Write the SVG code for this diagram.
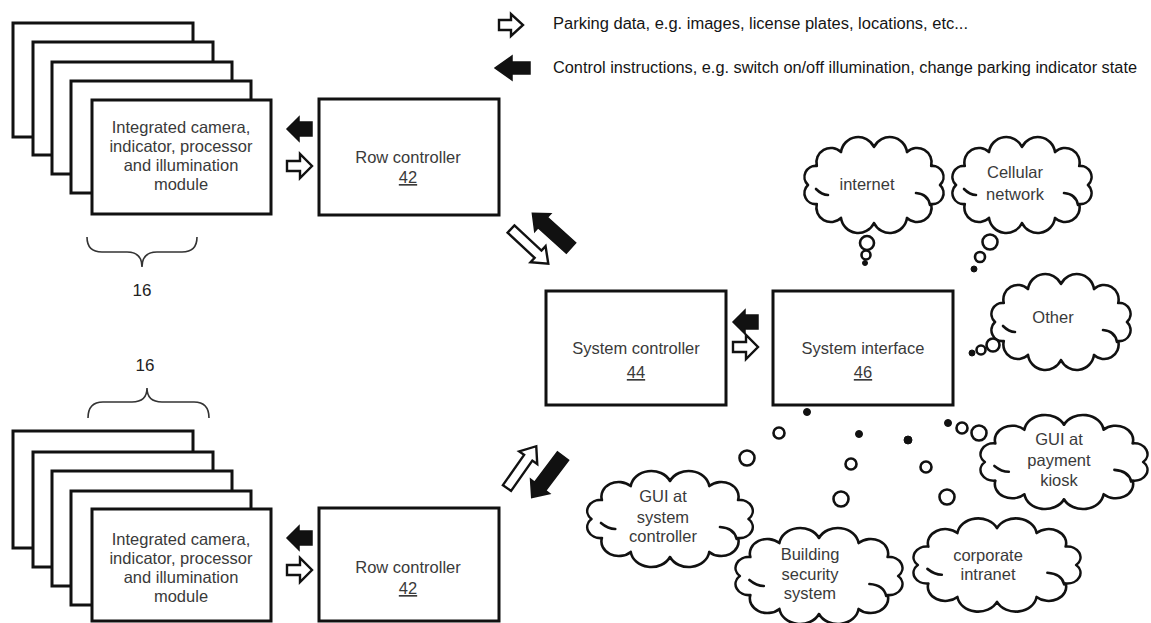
<svg xmlns="http://www.w3.org/2000/svg" xmlns:xlink="http://www.w3.org/1999/xlink" width="1151" height="623" viewBox="0 0 1151 623">
<style>
.box{fill:#fff;stroke:#111;stroke-width:3}
.t{font-family:"Liberation Sans",Arial,sans-serif;font-size:16.5px;fill:#3a3a3a;text-anchor:middle}
.lg{font-family:"Liberation Sans",Arial,sans-serif;font-size:16px;fill:#151515}
.u{text-decoration:underline}
.brace{fill:none;stroke:#333;stroke-width:1.6}
.bub{fill:#fff;stroke:#111;stroke-width:2.6}
.dot{fill:#111;stroke:#111;stroke-width:1}
.wa{fill:#fff;stroke:#111;stroke-width:2.4;stroke-linejoin:miter}
.ba{fill:#111;stroke:#111;stroke-width:1.5}
.cl{fill:#fff;stroke:#111;stroke-width:2.6;stroke-linejoin:round}
.curl{fill:none;stroke:#111;stroke-width:2.6;stroke-linecap:round}
</style>
<defs>
<g id="cloud">
<path class="cl" vector-effect="non-scaling-stroke" d="M66,0 A11,11 0 0 1 57.2,19 A14.5,14.5 0 0 1 33,32.9 A17.4,17.4 0 0 1 0,38 A17.4,17.4 0 0 1 -33,32.9 A14.5,14.5 0 0 1 -57.2,19 A11,11 0 0 1 -66,0 A11,11 0 0 1 -57.2,-19 A14.5,14.5 0 0 1 -33,-32.9 A17.4,17.4 0 0 1 0,-38 A17.4,17.4 0 0 1 33,-32.9 A14.5,14.5 0 0 1 57.2,-19 A11,11 0 0 1 66,0 Z"/>
<path class="curl" vector-effect="non-scaling-stroke" d="M42,8 Q54,9 56,20"/>
<path class="curl" vector-effect="non-scaling-stroke" d="M-58,4 Q-52,10 -46,10"/>
</g>
<polygon id="wsm" class="wa" points="0,-5 13,-5 13,-12 25,0 13,12 13,5 0,5"/>
<polygon id="bsm" class="ba" points="25,-7 12,-7 12,-12 0,0 12,12 12,7 25,7"/>
<polygon id="wlong" class="wa" points="0,-5 37,-5 37,-11 51,0 37,11 37,5 0,5"/>
<polygon id="blong" class="ba" points="0,-7 38,-7 38,-12 52,0 38,12 38,7 0,7"/>
</defs>

<g id="legend">
<polygon class="wa" points="499,20 511,20 511,14 523,25 511,36 511,30 499,30"/>
<text class="lg" x="553" y="29" textLength="415" lengthAdjust="spacingAndGlyphs">Parking data, e.g. images, license plates, locations, etc...</text>
<polygon class="ba" points="530,62 512,62 512,56 495,68 512,80 512,74 530,74"/>
<text class="lg" x="553" y="73" textLength="584" lengthAdjust="spacingAndGlyphs">Control instructions, e.g. switch on/off illumination, change parking indicator state</text>
</g>

<g id="modules-top">
<rect class="box" x="13" y="23" width="180" height="114"/>
<rect class="box" x="33" y="42" width="180" height="113"/>
<rect class="box" x="52" y="62" width="180" height="112"/>
<rect class="box" x="71" y="81" width="180" height="112"/>
<rect class="box" x="92" y="100" width="179" height="114"/>
<text class="t" x="181" y="133">Integrated camera,</text>
<text class="t" x="181" y="152">indicator, processor</text>
<text class="t" x="181" y="171">and illumination</text>
<text class="t" x="181" y="190">module</text>
<path class="brace" d="M87,237 Q87,252 102,252 L127,252 Q142,252 142,267 Q142,252 157,252 L182,252 Q197,252 197,237"/>
<text class="t" x="142" y="296" style="font-size:17px;fill:#222">16</text>
</g>

<g id="modules-bottom">
<rect class="box" x="13" y="431" width="180" height="117"/>
<rect class="box" x="33" y="452" width="180" height="115"/>
<rect class="box" x="52" y="471" width="180" height="115"/>
<rect class="box" x="71" y="491" width="180" height="114"/>
<rect class="box" x="92" y="509" width="179" height="112"/>
<text class="t" x="181" y="545">Integrated camera,</text>
<text class="t" x="181" y="564">indicator, processor</text>
<text class="t" x="181" y="583">and illumination</text>
<text class="t" x="181" y="602">module</text>
<path class="brace" d="M88,418 Q88,402 103,402 L132,402 Q147,402 147,388 Q147,402 162,402 L194,402 Q209,402 209,418"/>
<text class="t" x="145" y="371" style="font-size:17px;fill:#222">16</text>
</g>

<g id="row-controller-top">
<rect class="box" x="319" y="99" width="180" height="116"/>
<text class="t" x="408" y="163">Row controller</text>
<text class="t u" x="408" y="183">42</text>
</g>

<g id="row-controller-bottom">
<rect class="box" x="319" y="508" width="180" height="113"/>
<text class="t" x="408" y="573">Row controller</text>
<text class="t u" x="408" y="594">42</text>
</g>

<g id="system-controller">
<rect class="box" x="546" y="291" width="180" height="114"/>
<text class="t" x="636" y="354">System controller</text>
<text class="t u" x="636" y="378">44</text>
</g>

<g id="system-interface">
<rect class="box" x="773" y="291" width="180" height="114"/>
<text class="t" x="863" y="354">System interface</text>
<text class="t u" x="863" y="378">46</text>
</g>

<g id="cloud-internet">
<use xlink:href="#cloud" transform="translate(874,185)"/>
<text class="t" x="867" y="190">internet</text>
</g>
<g id="cloud-cellular">
<use xlink:href="#cloud" transform="translate(1022,185)"/>
<text class="t" x="1015" y="178">Cellular</text>
<text class="t" x="1015" y="200">network</text>
</g>
<g id="cloud-other">
<use xlink:href="#cloud" transform="translate(1061,322)"/>
<text class="t" x="1053" y="323">Other</text>
</g>
<g id="cloud-gui-kiosk">
<use xlink:href="#cloud" transform="translate(1064,462) scale(1.2,0.98)"/>
<text class="t" x="1059" y="445">GUI at</text>
<text class="t" x="1059" y="466">payment</text>
<text class="t" x="1059" y="486">kiosk</text>
</g>
<g id="cloud-gui-system-controller">
<use xlink:href="#cloud" transform="translate(670,519) scale(1.19,1)"/>
<text class="t" x="663" y="502">GUI at</text>
<text class="t" x="663" y="523">system</text>
<text class="t" x="663" y="542">controller</text>
</g>
<g id="cloud-building-security">
<use xlink:href="#cloud" transform="translate(819,576) scale(1.2,1)"/>
<text class="t" x="810" y="560">Building</text>
<text class="t" x="810" y="580">security</text>
<text class="t" x="810" y="599">system</text>
</g>
<g id="cloud-corporate-intranet">
<use xlink:href="#cloud" transform="translate(997,565) scale(1.2,0.97)"/>
<text class="t" x="988" y="561">corporate</text>
<text class="t" x="988" y="580">intranet</text>
</g>

<g id="connectors">
<use xlink:href="#bsm" transform="translate(287,129)"/>
<use xlink:href="#wsm" transform="translate(287,166)"/>
<use xlink:href="#bsm" transform="translate(287,538)"/>
<use xlink:href="#wsm" transform="translate(287,570)"/>
<use xlink:href="#bsm" transform="translate(733,322)"/>
<use xlink:href="#wsm" transform="translate(733,347)"/>
<use xlink:href="#wlong" transform="translate(511,229) rotate(43)"/>
<use xlink:href="#blong" transform="translate(571,248) rotate(222)"/>
<use xlink:href="#wlong" transform="translate(507,488) rotate(-55)"/>
<use xlink:href="#blong" transform="translate(563,456) rotate(127)"/>
<circle class="bub" cx="867" cy="243" r="7"/>
<circle class="bub" cx="866" cy="255" r="4.5"/>
<circle class="dot" cx="865" cy="263" r="2.5"/>
<circle class="bub" cx="990" cy="242" r="7.5"/>
<circle class="bub" cx="980" cy="257" r="5"/>
<circle class="dot" cx="974" cy="269" r="3"/>
<circle class="bub" cx="993" cy="345" r="6.5"/>
<circle class="bub" cx="981" cy="350" r="4.5"/>
<circle class="dot" cx="972" cy="353" r="3"/>
<circle class="dot" cx="807" cy="412" r="3.5"/>
<circle class="bub" cx="779" cy="433" r="5.5"/>
<circle class="bub" cx="747" cy="458" r="7.5"/>
<circle class="dot" cx="859" cy="434" r="3.5"/>
<circle class="bub" cx="851" cy="464" r="5.5"/>
<circle class="bub" cx="841" cy="499" r="7.5"/>
<circle class="dot" cx="908" cy="440" r="4"/>
<circle class="bub" cx="926" cy="467" r="5.5"/>
<circle class="bub" cx="947" cy="497" r="7.5"/>
<circle class="dot" cx="948" cy="423" r="3.5"/>
<circle class="bub" cx="962" cy="428" r="5.5"/>
<circle class="bub" cx="979" cy="433" r="7.5"/>
</g>
</svg>
